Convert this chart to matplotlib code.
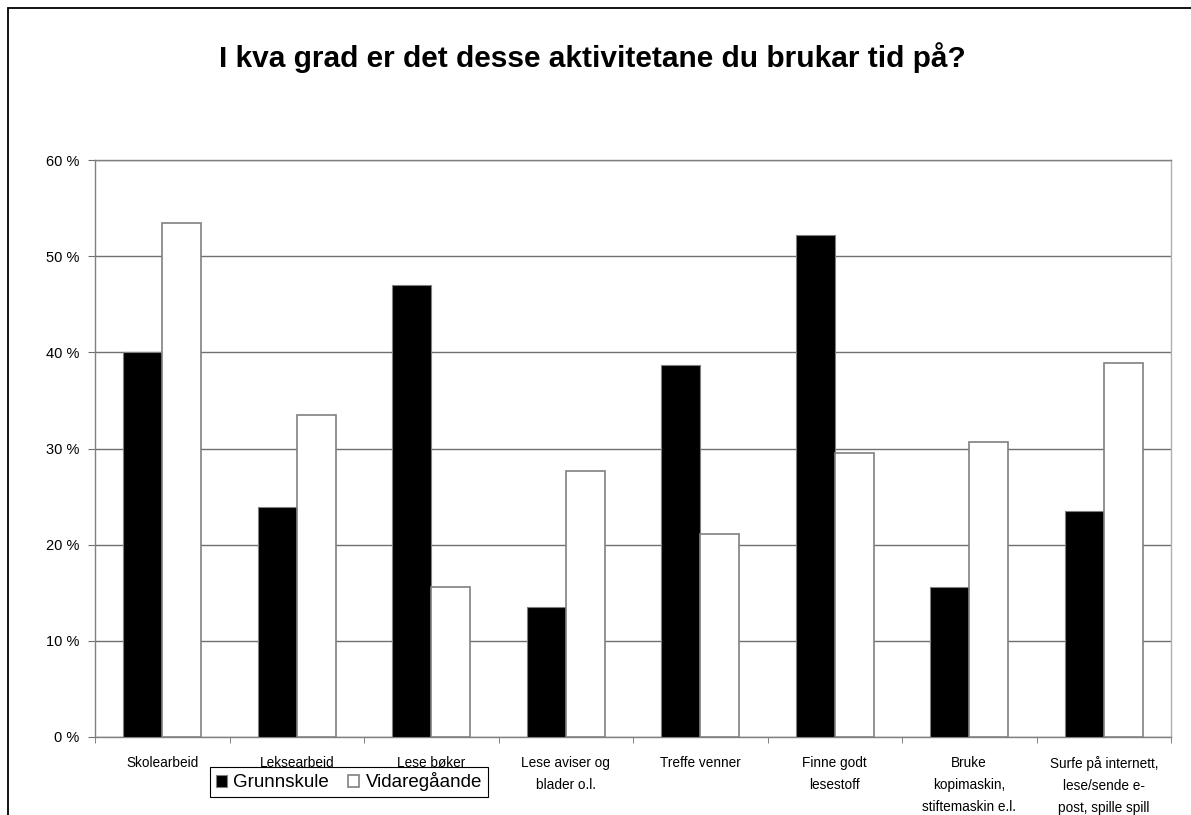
import matplotlib.pyplot as plt
import matplotlib.patches as mpatches
import numpy as np

plt.rcParams['font.family'] = ['Liberation Sans', 'DejaVu Sans']

categories = ['Skolearbeid', 'Leksearbeid', 'Lese bøker', 'Lese aviser og\nblader o.l.',
              'Treffe venner', 'Finne godt\nlesestoff', 'Bruke\nkopimaskin,\nstiftemaskin e.l.',
              'Surfe på internett,\nlese/sende e-\npost, spille spill']
grunnskule = [40.0, 23.9, 47.0, 13.5, 38.7, 52.2, 15.6, 23.5]
vidaregaande = [53.5, 33.5, 15.6, 27.7, 21.1, 29.5, 30.7, 38.9]
yticks = [0, 10, 20, 30, 40, 50, 60]

fig = plt.figure(figsize=(11.91, 8.15), dpi=100)
fig.patch.set_facecolor('white')
ax = fig.add_axes([95 / 1191, 78 / 815, 1076 / 1191, 577 / 815])

x = np.arange(len(categories))
w = 0.29
ax.bar(x - w / 2, grunnskule, width=w, color='black', edgecolor='#808080',
       linewidth=0.8, label='Grunnskule', zorder=3)
ax.bar(x + w / 2, vidaregaande, width=w, color='white', edgecolor='#808080',
       linewidth=1.2, label='Vidaregåande', zorder=3)

ax.set_xlim(-0.5, len(categories) - 0.5)
ax.set_ylim(0, 60)
ax.set_yticks(yticks)
ax.set_yticklabels([f'{v} %' for v in yticks], fontsize=10.5)
ax.yaxis.grid(True, color='#707070', linewidth=1.0)
ax.set_axisbelow(True)

# category labels centred, ticks at category boundaries
ax.set_xticks(x)
ax.set_xticklabels(categories, fontsize=9.8, linespacing=1.72, va='top')
ax.tick_params(axis='x', length=0, pad=14)
ax.set_xticks(np.arange(len(categories) + 1) - 0.5, minor=True)
ax.tick_params(axis='x', which='minor', length=4, color='#707070', direction='out')
ax.tick_params(axis='y', length=5, color='#707070', direction='out', pad=6)

for s in ax.spines.values():
    s.set_color('#808080')
    s.set_linewidth(1.0)
ax.spines['right'].set_color('#b0b0b0')

fig.text(0.497, 0.929, 'I kva grad er det desse aktivitetane du brukar tid på?',
         ha='center', va='center', fontsize=21.5, fontweight='bold')

leg = ax.legend(loc='lower left', bbox_to_anchor=(210 / 1191, 18 / 815),
                bbox_transform=fig.transFigure, ncol=2, fontsize=13.5,
                frameon=True, fancybox=False, framealpha=1, edgecolor='black',
                handlelength=0.6, handleheight=0.6, handletextpad=0.35,
                columnspacing=1.0, borderpad=0.3, borderaxespad=0)
leg.get_frame().set_linewidth(0.8)
leg.set_zorder(10)

# outer chart border (left and top visible)
fig.patches.append(mpatches.Rectangle((8 / 1191, -0.05), 1.2, (815 - 8) / 815 + 0.05,
                                      transform=fig.transFigure, fill=False,
                                      edgecolor='black', linewidth=1.3))

fig.savefig('out.png', dpi=100)
